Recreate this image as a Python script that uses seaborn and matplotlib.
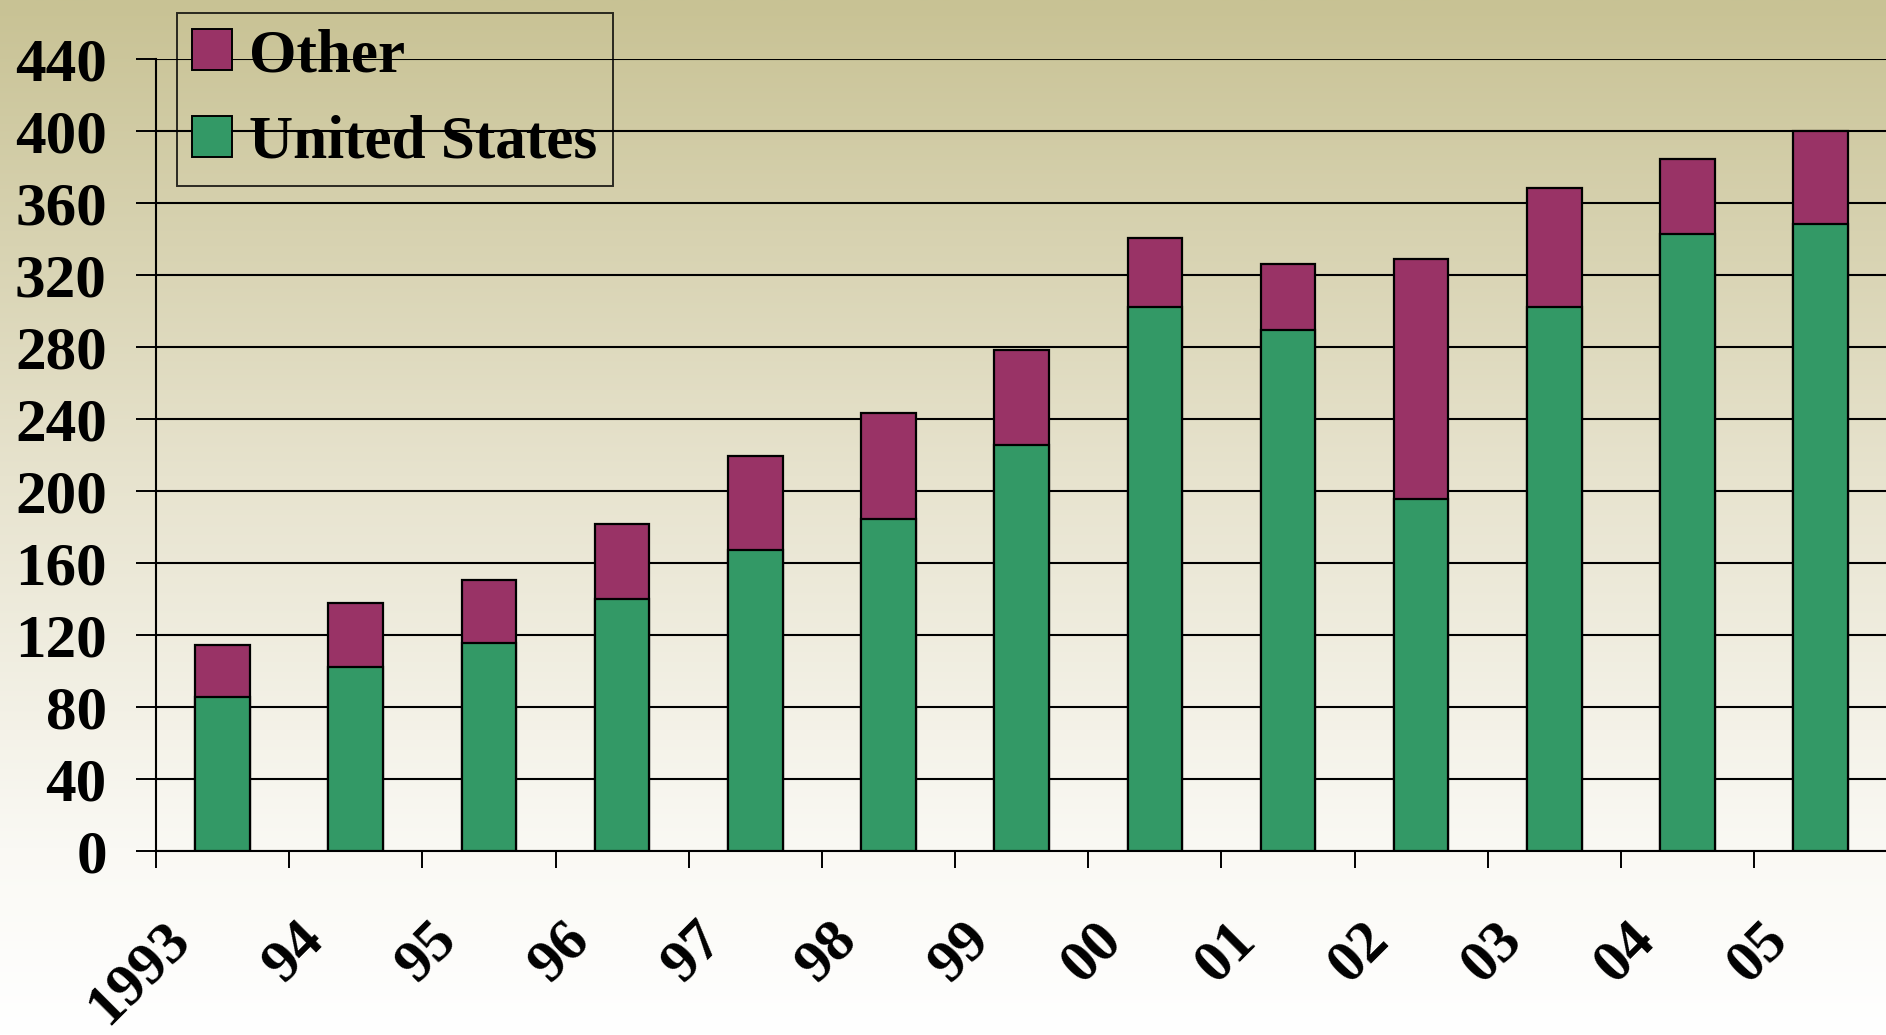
import numpy as np
import pandas as pd
import matplotlib
matplotlib.use("Agg")
import matplotlib.pyplot as plt
from matplotlib.patches import Patch
from matplotlib.transforms import ScaledTranslation
import seaborn as sns

# values
years = ["1993", "94", "95", "96", "97", "98", "99", "00", "01", "02", "03", "04", "05"]
united_states = [85.6, 102.3, 115.7, 139.8, 167.2, 184.6, 225.3, 302.2, 289.5, 195.3, 302.2, 343.0, 348.4]
other = [28.7, 35.4, 34.8, 42.1, 52.1, 58.8, 52.9, 38.2, 36.8, 133.7, 66.2, 41.5, 51.5]
y_ticks = [0, 40, 80, 120, 160, 200, 240, 280, 320, 360, 400, 440]

GREEN = "#339966"
PLUM = "#993366"

df = pd.DataFrame({"year": years, "us": united_states, "other": other})
df["total"] = df["us"] + df["other"]

sns.set_theme(style="ticks")
plt.rcParams["font.family"] = ["Liberation Serif", "DejaVu Serif"]
plt.rcParams["font.weight"] = "bold"
for key in ["text.color", "axes.labelcolor", "xtick.color", "ytick.color"]:
    plt.rcParams[key] = "black"

fig = plt.figure(figsize=(18.86, 10.35), dpi=100)

# khaki-to-white gradient behind everything
bg = fig.add_axes([0, 0, 1, 1], zorder=-10)
yy = np.linspace(0, 1, 400)
stops = [0.0, 0.46, 0.82, 1.0]
cols = np.array([[200, 194, 148], [231, 227, 206], [250, 249, 244], [255, 255, 255]]) / 255
grad = np.stack([np.interp(yy, stops, cols[:, c]) for c in range(3)], axis=-1)
bg.imshow(grad[:, None, :], aspect="auto", extent=[0, 1, 0, 1], origin="upper")
bg.axis("off")

ax = fig.add_axes([0.0827, 0.1778, 0.918, 0.7652])
ax.set_facecolor("none")

sns.barplot(data=df, x="year", y="total", order=years, color=PLUM, saturation=1,
            width=0.41, edgecolor="black", linewidth=1.6, ax=ax, zorder=3)
sns.barplot(data=df, x="year", y="us", order=years, color=GREEN, saturation=1,
            width=0.41, edgecolor="black", linewidth=1.6, ax=ax, zorder=4)

ax.set_xlim(-0.5, len(years) - 0.5)
ax.set_ylim(0, 440)
ax.set_xlabel("")
ax.set_ylabel("")
ax.yaxis.grid(True, color="black", linewidth=1.5)
ax.set_axisbelow(True)
ax.tick_params(axis="y", left=True, direction="out", length=14.4, width=1.4, color="black", pad=21)
ax.tick_params(axis="x", bottom=True, direction="out", length=12, width=1.4, color="black", pad=46)
for side in ["top", "right"]:
    ax.spines[side].set_visible(False)
for side in ["left", "bottom"]:
    ax.spines[side].set_color("black")
    ax.spines[side].set_linewidth(1.5)

ax.set_yticks(y_ticks)
ax.set_yticklabels([str(v) for v in y_ticks], fontsize=44, fontweight="bold", color="black")
ax.set_xticks(np.arange(len(years)) - 0.5)
ax.set_xticklabels(years, fontsize=43, fontweight="bold", color="black", rotation=45,
                   ha="right", va="center", rotation_mode="anchor")
# nudge year labels to the right of their ticks (after tick_params, which resets transforms)
shift = ScaledTranslation(0.26, 0, fig.dpi_scale_trans)
for lab in ax.get_xticklabels():
    lab.set_transform(lab.get_transform() + shift)

handles = [Patch(facecolor=PLUM, edgecolor="black", linewidth=1.4, label="Other"),
           Patch(facecolor=GREEN, edgecolor="black", linewidth=1.4, label="United States")]
leg = fig.legend(handles=handles, loc="upper left", bbox_to_anchor=(0.0938, 0.9875),
                 bbox_transform=fig.transFigure, borderaxespad=0, frameon=True,
                 fancybox=False, prop={"family": "Liberation Serif", "weight": "bold", "size": 44},
                 handlelength=0.65, handleheight=0.65, handletextpad=0.28,
                 labelspacing=0.5, borderpad=0.25)
leg.get_frame().set_edgecolor("black")
leg.get_frame().set_facecolor("none")
leg.get_frame().set_linewidth(1.4)
for t in leg.get_texts():
    t.set_color("black")

fig.savefig("out.png", dpi=100)
